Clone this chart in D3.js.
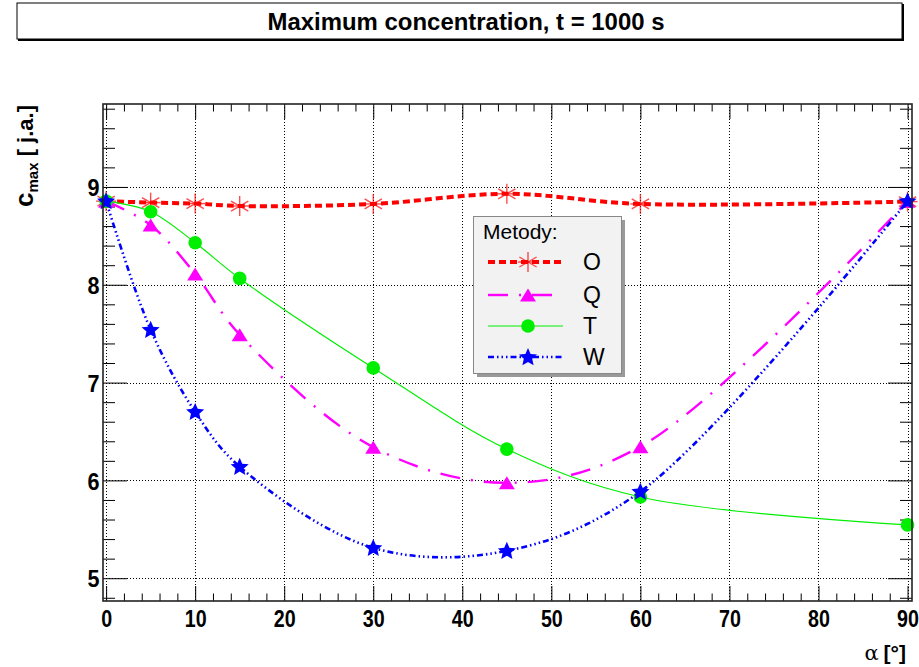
<!DOCTYPE html>
<html>
<head>
<meta charset="utf-8">
<script src="https://cdn.jsdelivr.net/npm/d3@7"></script>
<style>
  html, body { margin: 0; padding: 0; background: #fff; }
  svg { display: block; }
  text { font-family: "Liberation Sans", Arial, Helvetica, sans-serif; }
</style>
</head>
<body>
<svg id="chart" width="919" height="667"></svg>
<script>
// Angle of the source (degrees) at which each method was evaluated
const angles = [0, 5, 10, 15, 30, 45, 60, 90];

// Maximum concentration per method [j.a.]
const valuesO = [8.855, 8.84, 8.83, 8.805, 8.826, 8.93, 8.826, 8.85];
const valuesQ = [8.855, 8.61, 8.11, 7.49, 6.34, 5.975, 6.345, 8.855];
const valuesT = [8.855, 8.747, 8.43, 8.065, 7.15, 6.32, 5.83, 5.545];
const valuesW = [8.855, 7.54, 6.70, 6.14, 5.31, 5.28, 5.885, 8.855];

const seriesNames = ["O", "Q", "T", "W"];

const xMajorTicks = [0, 10, 20, 30, 40, 50, 60, 70, 80, 90];
const yMajorTicks = [5, 6, 7, 8, 9];

const titleText = "Maximum concentration, t = 1000 s";
const legendTitle = "Metody:";

const svg = d3.select("#chart");

// plot frame
const L = 103, R = 912, T = 104, B = 601;
const x = d3.scaleLinear().domain([-0.35, 90.5]).range([L, R]);
const y = d3.scaleLinear().domain([4.767, 9.848]).range([B, T]);

const xMinorTicks = d3.range(0, 91, 2).filter(v => v % 10 !== 0);
const yMinorTicks = d3.range(48, 99, 2).map(v => v / 10).filter(v => Math.abs(v - Math.round(v)) > 1e-6);

// ---- title box ----
svg.append("rect").attr("x", 18).attr("y", 4).attr("width", 886).attr("height", 37).attr("fill", "#000");
svg.append("rect").attr("x", 17).attr("y", 3).attr("width", 885).attr("height", 36)
  .attr("fill", "#fff").attr("stroke", "#000").attr("stroke-width", 1);
svg.append("text").attr("x", 466).attr("y", 30).attr("text-anchor", "middle")
  .attr("font-size", 23).attr("font-weight", "bold")
  .attr("textLength", 397).attr("lengthAdjust", "spacingAndGlyphs")
  .text(titleText);

// ---- grid ----
const grid = svg.append("g").attr("stroke", "#000").attr("stroke-width", 1).attr("stroke-dasharray", "1,2");
grid.selectAll("line.gx").data(xMajorTicks).join("line")
  .attr("x1", d => Math.round(x(d)) + 0.5).attr("x2", d => Math.round(x(d)) + 0.5)
  .attr("y1", T).attr("y2", B);
grid.selectAll("line.gy").data(yMajorTicks).join("line")
  .attr("y1", d => Math.round(y(d)) + 0.5).attr("y2", d => Math.round(y(d)) + 0.5)
  .attr("x1", L).attr("x2", R);

// ---- ticks on all four sides ----
function tickAxis(axis, tx, ty) {
  const g = svg.append("g").attr("transform", `translate(${tx},${ty})`).call(axis);
  g.select(".domain").remove();
  g.selectAll("text").remove();
  g.selectAll("line").attr("stroke", "#000").attr("stroke-width", 1);
  return g;
}
tickAxis(d3.axisRight(y).tickValues(yMajorTicks).tickSize(24), L, 0);
tickAxis(d3.axisRight(y).tickValues(yMinorTicks).tickSize(12), L, 0);
tickAxis(d3.axisLeft(y).tickValues(yMajorTicks).tickSize(24), R, 0);
tickAxis(d3.axisLeft(y).tickValues(yMinorTicks).tickSize(12), R, 0);
tickAxis(d3.axisTop(x).tickValues(xMajorTicks).tickSize(15), 0, B);
tickAxis(d3.axisTop(x).tickValues(xMinorTicks).tickSize(7.5), 0, B);
tickAxis(d3.axisBottom(x).tickValues(xMajorTicks).tickSize(15), 0, T);
tickAxis(d3.axisBottom(x).tickValues(xMinorTicks).tickSize(7.5), 0, T);

// ---- tick labels (narrowed bold digits) ----
const yLab = svg.append("g").attr("transform", `translate(${L},0)`)
  .call(d3.axisLeft(y).tickValues(yMajorTicks).tickSize(0).tickPadding(4).tickFormat(d3.format("d")));
yLab.select(".domain").remove();
yLab.selectAll("text").attr("font-size", 24).attr("font-weight", "bold")
  .attr("font-family", "Liberation Sans, Arial, sans-serif").attr("fill", "#000")
  .attr("dy", "0.36em").attr("transform", "scale(0.9,1)");

const xLab = svg.append("g").attr("transform", `translate(0,${B})`)
  .call(d3.axisBottom(x).tickValues(xMajorTicks).tickSize(0).tickPadding(9).tickFormat(d3.format("d")));
xLab.select(".domain").remove();
xLab.selectAll("text").attr("font-size", 24).attr("font-weight", "bold")
  .attr("font-family", "Liberation Sans, Arial, sans-serif").attr("fill", "#000")
  .attr("transform", "scale(0.82,1)");

// ---- axis titles ----
const yt = svg.append("text").attr("transform", `translate(33,${T + 1}) rotate(-90)`)
  .attr("text-anchor", "end").attr("font-weight", "bold").attr("font-size", 22);
yt.append("tspan").attr("font-size", 26).text("c");
yt.append("tspan").attr("font-size", 15).attr("dy", 5).text("max");
yt.append("tspan").attr("dy", -5).text(" [ j.a.]");

const xt = svg.append("text").attr("x", 906).attr("y", 660).attr("text-anchor", "end").attr("font-size", 21);
xt.append("tspan").attr("font-family", "DejaVu Serif, serif").text("α");
xt.append("tspan").attr("font-weight", "bold").attr("dx", 5).text("[°]");

// ---- markers ----
function asterisk(g, cx, cy, color) {
  const r = 10;
  [90, 30, 150, 0].forEach(a => {
    const rad = a * Math.PI / 180;
    g.append("line")
      .attr("x1", cx - r * Math.cos(rad)).attr("y1", cy - r * Math.sin(rad))
      .attr("x2", cx + r * Math.cos(rad)).attr("y2", cy + r * Math.sin(rad))
      .attr("stroke", color).attr("stroke-width", 1.4).attr("stroke-opacity", 0.7);
  });
}
function triangle(g, cx, cy, color) {
  const w = 8, h = 13;
  g.append("path").attr("d", `M${cx},${cy - h / 2}L${cx + w},${cy + h / 2}L${cx - w},${cy + h / 2}Z`).attr("fill", color);
}
function circle(g, cx, cy, color) {
  g.append("circle").attr("cx", cx).attr("cy", cy).attr("r", 6.8).attr("fill", color);
}
function star(g, cx, cy, color) {
  const ro = 9.5, ri = 4.4;
  const pts = d3.range(10).map(i => {
    const a = -Math.PI / 2 + i * Math.PI / 5;
    const rr = i % 2 === 0 ? ro : ri;
    return [cx + rr * Math.cos(a), cy + rr * Math.sin(a) + 0.5];
  });
  g.append("path").attr("d", "M" + pts.join("L") + "Z").attr("fill", color);
}

const series = [
  { name: "O", values: valuesO, color: "#ff0000", width: 4, dash: "7,4", marker: asterisk },
  { name: "Q", values: valuesQ, color: "#ff00ff", width: 2.4, dash: "20,11,2,11", marker: triangle },
  { name: "T", values: valuesT, color: "#00ee00", width: 1.2, dash: null, marker: circle },
  { name: "W", values: valuesW, color: "#0000ff", width: 2.6, dash: "6,3,1.5,3,1.5,3,1.5,3", marker: star }
];

const line = d3.line().x(d => x(d[0])).y(d => y(d[1])).curve(d3.curveCatmullRom.alpha(0.5));

const plot = svg.append("g");
series.forEach(s => {
  const pts = angles.map((a, i) => [a, s.values[i]]);
  const g = plot.append("g");
  g.append("path").attr("d", line(pts)).attr("fill", "none")
    .attr("stroke", s.color).attr("stroke-width", s.width)
    .attr("stroke-dasharray", s.dash);
  pts.forEach(p => s.marker(g, x(p[0]), y(p[1]), s.color));
});

// ---- frame ----
svg.append("rect").attr("x", L).attr("y", T).attr("width", R - L).attr("height", B - T)
  .attr("fill", "none").attr("stroke", "#222").attr("stroke-width", 1.6);

// ---- legend ----
const lg = svg.append("g");
lg.append("rect").attr("x", 477).attr("y", 220).attr("width", 148).attr("height", 157).attr("fill", "#999");
lg.append("rect").attr("x", 473.5).attr("y", 216.5).attr("width", 148).attr("height", 157)
  .attr("fill", "#f2f2f2").attr("stroke", "#888").attr("stroke-width", 1);
lg.append("text").attr("x", 483).attr("y", 239).attr("font-size", 21).text(legendTitle);
const rowY = [262, 295, 326, 357];
series.forEach((s, i) => {
  const cy = rowY[i];
  lg.append("line").attr("x1", 488).attr("x2", 563).attr("y1", cy).attr("y2", cy)
    .attr("stroke", s.color).attr("stroke-width", s.width).attr("stroke-dasharray", s.dash);
  s.marker(lg, 528, cy, s.color);
  lg.append("text").attr("x", 583).attr("y", cy + 8).attr("font-size", 23).text(seriesNames[i]);
});
</script>
</body>
</html>
